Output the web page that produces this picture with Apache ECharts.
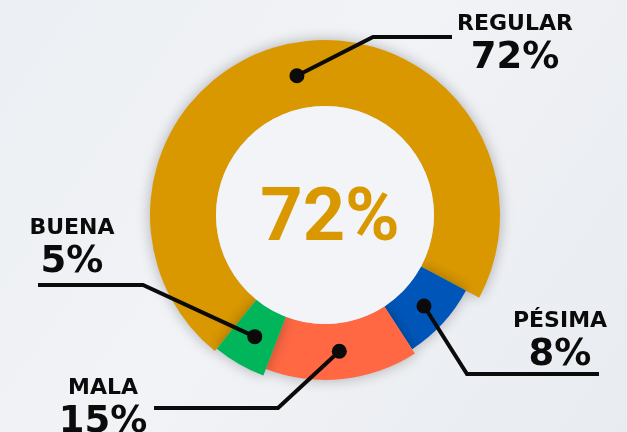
<!DOCTYPE html>
<html>
<head>
<meta charset="utf-8">
<script src="https://cdn.jsdelivr.net/npm/echarts@6/dist/echarts.min.js"></script>
<style>
  html, body { margin: 0; padding: 0; }
  #chart { width: 627px; height: 432px; }
</style>
</head>
<body>
<div id="chart"></div>
<script>
// data
const categories = ['REGULAR', 'PÉSIMA', 'MALA', 'BUENA'];
const values = [72, 8, 15, 5];

// look
const colors = ['#DA9800', '#0056B8', '#FF6843', '#00B55A'];
const ringOuter = [175, 160, 165, 172];
const ringInner = 109;
const center = [325, 215];
const startFromTop = 219; // degrees, clockwise from 12 o'clock
const ink = '#0b0b0b';

// label anchors (centre/top of block) and leader line bend + end
const spots = [
    { x: 515, y: 9, bend: [373, 37], end: [452, 37] },
    { x: 560, y: 306, bend: [467, 374], end: [599, 374] },
    { x: 103, y: 373, bend: [278, 408], end: [154, 408] },
    { x: 72, y: 213, bend: [143, 285], end: [38, 285] },
];

const total = values.reduce((a, b) => a + b, 0);
let acc = 0;
const midAngles = values.map((v) => {
    const a = startFromTop + ((acc + v / 2) / total) * 360;
    acc += v;
    return a % 360;
});
const dotR = ringOuter.map((r) => (r + ringInner) / 2);

function toXY(angle, r) {
    const rad = (angle * Math.PI) / 180;
    return [center[0] + r * Math.sin(rad), center[1] - r * Math.cos(rad)];
}
const dots = midAngles.map((a, i) => toXY(a, dotR[i]));

const chart = echarts.init(document.getElementById('chart'));

// one ring per slice so every slice can have its own outer radius
const ringSeries = categories.map((name, k) => ({
    type: 'pie',
    center: center,
    radius: [ringInner, ringOuter[k]],
    startAngle: 90 - startFromTop,
    clockwise: true,
    silent: true,
    z: 2,
    label: { show: false },
    labelLine: { show: false },
    data: categories.map((n, i) => ({
        name: n,
        value: values[i],
        itemStyle:
            i === k
                ? { color: colors[i], shadowBlur: 14, shadowColor: 'rgba(0,0,0,0.28)' }
                : { color: 'rgba(0,0,0,0)' },
    })),
}));

// invisible ring on top that only carries the labels and leader lines
const labelSeries = {
    type: 'pie',
    center: center,
    radius: [ringInner, ringInner + 1],
    startAngle: 90 - startFromTop,
    clockwise: true,
    silent: true,
    avoidLabelOverlap: false,
    z: 10,
    itemStyle: { color: 'rgba(0,0,0,0)' },
    data: categories.map((n, i) => ({ name: n, value: values[i] })),
    label: {
        formatter: '{n|{b}}\n{v|{c}%}',
        color: ink,
        rich: {
            n: { fontFamily: 'DejaVu Sans', fontWeight: 'bold', fontSize: 22, lineHeight: 30, color: ink, align: 'center' },
            v: { fontFamily: 'DejaVu Sans', fontWeight: 'bold', fontSize: 37, lineHeight: 38, color: ink, align: 'center' },
        },
    },
    labelLine: { show: true, lineStyle: { color: ink, width: 4 } },
    labelLayout: (p) => {
        const s = spots[p.dataIndex];
        return {
            x: s.x,
            y: s.y,
            align: 'center',
            verticalAlign: 'top',
            labelLinePoints: [dots[p.dataIndex], s.bend, s.end],
        };
    },
};

chart.setOption({
    backgroundColor: {
        type: 'linear', x: 0, y: 0, x2: 1, y2: 1,
        colorStops: [
            { offset: 0, color: '#eceff3' },
            { offset: 0.45, color: '#f1f3f6' },
            { offset: 1, color: '#e8ebf0' },
        ],
    },
    animation: false,
    polar: { center: center, radius: 200 },
    angleAxis: { type: 'value', min: 0, max: 360, startAngle: 90, clockwise: true, show: false },
    radiusAxis: { type: 'value', min: 0, max: 200, show: false },
    graphic: [
        {
            type: 'circle',
            shape: { cx: center[0], cy: center[1], r: ringInner },
            style: { fill: '#f3f4f8' },
            z: 5,
            silent: true,
        },
        {
            type: 'text',
            x: center[0] + 5,
            y: center[1] + 6,
            z: 100,
            style: {
                text: values[0] + '%',
                fill: colors[0],
                font: 'bold 74px Roboto',
                align: 'center',
                verticalAlign: 'middle',
            },
        },
    ],
    series: [
        ...ringSeries,
        labelSeries,
        {
            type: 'scatter',
            coordinateSystem: 'polar',
            symbolSize: 15,
            itemStyle: { color: ink, opacity: 1 },
            silent: true,
            z: 20,
            data: categories.map((n, i) => [dotR[i], midAngles[i]]),
        },
    ],
});
</script>
</body>
</html>
